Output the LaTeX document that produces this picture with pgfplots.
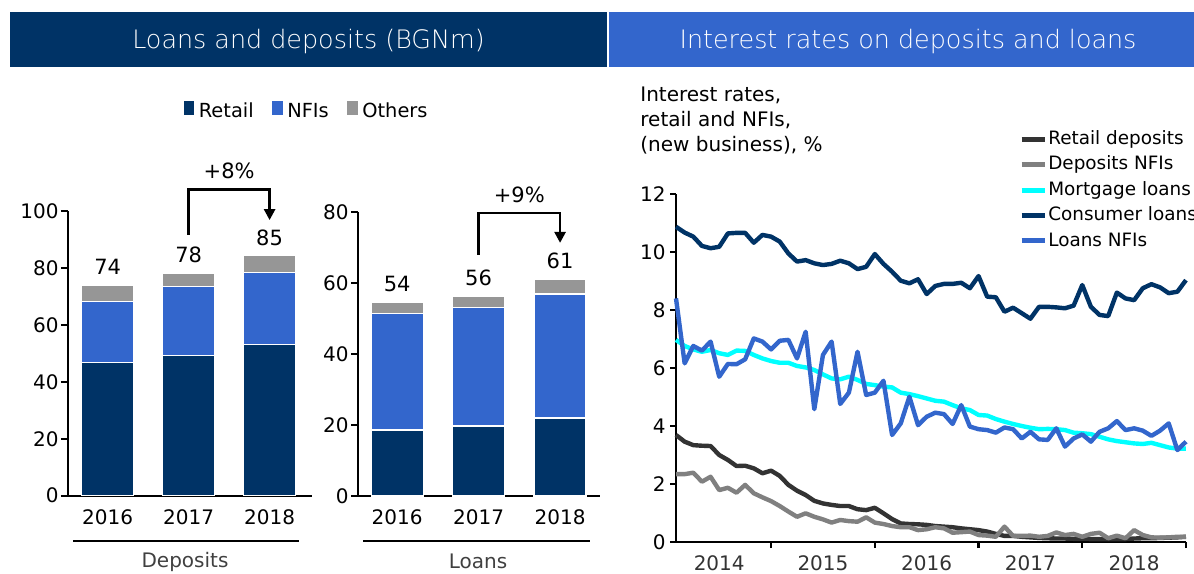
\documentclass[border=0pt]{standalone}
\usepackage{pgfplots}
\pgfplotsset{compat=1.18}
\usepackage{pgfplotstable}
\usepackage{fontspec}
\setmainfont{DejaVu Sans}
\newfontfamily\lightfont{DejaVu Sans ExtraLight}
\usetikzlibrary{arrows.meta}

\definecolor{navy}{RGB}{0,51,102}
\definecolor{nblue}{RGB}{51,102,204}
\definecolor{ogray}{RGB}{150,150,150}
\definecolor{rdep}{RGB}{51,51,51}
\definecolor{dnfi}{RGB}{128,128,128}
\definecolor{mort}{RGB}{0,255,255}
\definecolor{lblgray}{RGB}{64,64,64}

\pgfplotstableread{
x retail nfi others
0 46.9 21.2 5.7
1 49.2 24.2 4.7
2 53.2 25.3 6.0
}\deposits

\pgfplotstableread{
x retail nfi others
0 18.6 32.9 3.1
1 19.7 33.3 3.3
2 22.0 34.9 4.2
}\loans

\pgfplotstableread{
m rd dn ml cl ln
0 3.69 2.34 6.97 10.87 8.40
1 3.46 2.34 6.76 10.67 6.16
2 3.34 2.39 6.64 10.53 6.76
3 3.32 2.08 6.56 10.21 6.60
4 3.31 2.25 6.62 10.13 6.91
5 3.00 1.79 6.51 10.18 5.70
6 2.83 1.87 6.45 10.64 6.14
7 2.62 1.70 6.60 10.66 6.13
8 2.63 1.97 6.59 10.66 6.30
9 2.54 1.68 6.45 10.32 7.02
10 2.37 1.54 6.33 10.59 6.91
11 2.46 1.41 6.24 10.53 6.64
12 2.28 1.24 6.18 10.36 6.94
13 1.97 1.05 6.18 9.95 6.97
14 1.77 0.87 6.07 9.67 6.33
15 1.62 0.99 6.02 9.72 7.25
16 1.42 0.87 5.93 9.61 4.58
17 1.33 0.78 5.78 9.55 6.45
18 1.28 0.67 5.64 9.59 6.91
19 1.24 0.76 5.61 9.70 4.76
20 1.24 0.72 5.70 9.61 5.15
21 1.13 0.70 5.59 9.41 6.56
22 1.10 0.85 5.45 9.49 5.07
23 1.18 0.67 5.41 9.93 5.15
24 0.99 0.62 5.36 9.59 5.56
25 0.79 0.55 5.33 9.32 3.69
26 0.64 0.51 5.15 9.01 4.09
27 0.62 0.51 5.10 8.92 5.01
28 0.61 0.41 5.03 9.06 4.03
29 0.59 0.44 4.95 8.55 4.32
30 0.55 0.51 4.87 8.83 4.46
31 0.53 0.47 4.84 8.90 4.41
32 0.51 0.32 4.72 8.90 4.07
33 0.47 0.34 4.61 8.94 4.72
34 0.44 0.36 4.55 8.75 3.98
35 0.41 0.24 4.38 9.17 3.89
36 0.36 0.22 4.36 8.46 3.86
37 0.28 0.18 4.24 8.44 3.77
38 0.21 0.53 4.15 7.94 3.95
39 0.21 0.21 4.07 8.08 3.89
40 0.18 0.21 4.00 7.89 3.57
41 0.16 0.22 3.94 7.70 3.80
42 0.14 0.18 3.89 8.11 3.54
43 0.13 0.21 3.90 8.11 3.52
44 0.12 0.33 3.89 8.09 3.92
45 0.12 0.24 3.86 8.06 3.29
46 0.11 0.28 3.77 8.15 3.57
47 0.11 0.18 3.75 8.86 3.71
48 0.10 0.28 3.72 8.11 3.46
49 0.10 0.32 3.63 7.83 3.80
50 0.10 0.13 3.54 7.79 3.92
51 0.10 0.22 3.48 8.60 4.17
52 0.10 0.13 3.44 8.40 3.86
53 0.12 0.41 3.40 8.34 3.92
54 0.13 0.24 3.38 8.75 3.84
55 0.13 0.16 3.42 8.89 3.66
56 0.14 0.15 3.34 8.78 3.84
57 0.15 0.16 3.26 8.58 4.09
58 0.16 0.18 3.22 8.63 3.17
59 0.18 0.18 3.22 9.03 3.46
}\rates

\pgfplotsset{
  barax/.style={
    scale only axis, ybar stacked, clip=false,
    axis x line=bottom, axis y line=left,
    axis line style={-, line width=1.2pt, black},
    ymin=0, xtick={0,1,2}, xticklabels={2016,2017,2018},
    x tick style={draw=none},
    y tick style={line width=1.2pt, black},
    tick align=outside, major tick length=3.5pt,
    tick label style={font=\fontsize{10}{12}\selectfont},
    yticklabel style={inner sep=1pt},
    /pgf/number format/assume math mode=true,
  },
  barst/.style={fill=#1, draw=white, line width=0.6pt},
}

\begin{document}
\begin{tikzpicture}
\useasboundingbox (0,0) rectangle (597pt,-286.5pt);
% banners
\fill[navy] (5pt,-6pt) rectangle (303.5pt,-33.5pt);
\fill[nblue] (304.5pt,-6pt) rectangle (597pt,-33.5pt);
\node[text=white, font=\lightfont\fontsize{12.7}{15}\selectfont] at (154.25pt,-20.5pt) {Loans and deposits (BGNm)};
\node[text=white, font=\lightfont\fontsize{12.7}{15}\selectfont] at (454pt,-20.5pt) {Interest rates on deposits and loans};

% deposits
\begin{axis}[barax,
  at={(34pt,-247.85pt)}, anchor=south west,
  width=121.85pt, height=142.35pt,
  xmin=-0.49, xmax=2.52, ymax=100, ytick={0,20,...,100},
  bar width=25.85pt,
  ybar legend/.style={legend image code/.code={\fill[##1,draw=none] (0pt,-4pt) rectangle (7.5pt,4pt);}},
  legend columns=3,
  legend style={at={(0.468,1.349)}, anchor=west, draw=none, fill=none, inner sep=0pt,
    font=\fontsize{9.7}{11}\selectfont, nodes={inner sep=1.6pt},
    /tikz/every even column/.append style={column sep=7pt}},
]
\addplot[barst=navy] table[x=x,y=retail]{\deposits};
\addplot[barst=nblue] table[x=x,y=nfi]{\deposits};
\addplot[barst=ogray] table[x=x,y=others]{\deposits};
\legend{Retail,NFIs,Others}
\node[anchor=south, inner sep=0pt, yshift=5.3pt, font=\fontsize{10.5}{12}\selectfont] at (axis cs:0,73.8) {74};
\node[anchor=south, inner sep=0pt, yshift=5.3pt, font=\fontsize{10.5}{12}\selectfont] at (axis cs:1,78.1) {78};
\node[anchor=south, inner sep=0pt, yshift=4.5pt, font=\fontsize{10.5}{12}\selectfont] at (axis cs:2,84.5) {85};
\draw[line width=1.3pt, -{Triangle[length=5.5pt,width=5.5pt]}] (axis cs:1,91.6) |- (axis cs:2,107.6) -- (axis cs:2,96.8);
\node[font=\fontsize{10.5}{12}\selectfont] at (axis cs:1.5,114) {+8\%};
\end{axis}

% loans
\begin{axis}[barax,
  at={(179pt,-248pt)}, anchor=south west,
  width=121pt, height=142pt,
  xmin=-0.48, xmax=2.49, ymax=80, ytick={0,20,...,80},
  bar width=26pt,
]
\addplot[barst=navy] table[x=x,y=retail]{\loans};
\addplot[barst=nblue] table[x=x,y=nfi]{\loans};
\addplot[barst=ogray] table[x=x,y=others]{\loans};
\node[anchor=south, inner sep=0pt, yshift=5pt, font=\fontsize{10.5}{12}\selectfont] at (axis cs:0,54.6) {54};
\node[anchor=south, inner sep=0pt, yshift=5pt, font=\fontsize{10.5}{12}\selectfont] at (axis cs:1,56.3) {56};
\node[anchor=south, inner sep=0pt, yshift=5pt, font=\fontsize{10.5}{12}\selectfont] at (axis cs:2,61.1) {61};
\draw[line width=1.3pt, -{Triangle[length=5.5pt,width=5.5pt]}] (axis cs:1,67.9) |- (axis cs:2,79.7) -- (axis cs:2,71.3);
\node[font=\fontsize{10.5}{12}\selectfont] at (axis cs:1.5,84.8) {+9\%};
\end{axis}

% group underlines
\draw[line width=1pt] (36.5pt,-270.5pt) -- (149.5pt,-270.5pt);
\draw[line width=1pt] (181.5pt,-270.5pt) -- (295pt,-270.5pt);
\node[text=lblgray, font=\fontsize{10}{12}\selectfont] at (92.5pt,-280.8pt) {Deposits};
\node[text=lblgray, font=\fontsize{10}{12}\selectfont] at (239pt,-280.8pt) {Loans};

% line chart title
\node[anchor=base west, inner sep=0pt, font=\fontsize{10}{12}\selectfont] at (320pt,-50.5pt) {Interest rates,};
\node[anchor=base west, inner sep=0pt, font=\fontsize{10}{12}\selectfont] at (320pt,-63pt) {retail and NFIs,};
\node[anchor=base west, inner sep=0pt, font=\fontsize{10}{12}\selectfont] at (320pt,-75.5pt) {(new business), \%};

% rates
\begin{axis}[
  at={(338pt,-271pt)}, anchor=south west,
  scale only axis, width=255pt, height=174pt,
  xmin=0, xmax=59, ymin=0, ymax=12, clip=false,
  axis x line=bottom, axis y line=left,
  axis line style={-, line width=1.2pt, black},
  ytick={0,2,...,12},
  xtick={11,23,35,47,59}, xticklabels={},
  extra x ticks={5,17,29,41,53},
  extra x tick labels={2014,2015,2016,2017,2018},
  extra x tick style={major tick length=0pt, tick label style={yshift=-3.3pt, text=rdep}},
  tick align=outside, major tick length=3pt,
  tick style={line width=1.2pt, black},
  tick label style={font=\fontsize{10}{12}\selectfont},
  yticklabel style={inner sep=2pt},
  /pgf/number format/assume math mode=true,
  legend image code/.code={\draw[#1, line width=2.5pt] (0pt,0pt) -- (11.5pt,0pt);},
  legend cell align=left,
  legend style={at={(0.672,1.188)}, anchor=north west, draw=none, fill=none, inner sep=0pt,
    font=\fontsize{9.2}{11}\selectfont, nodes={inner sep=0.6pt, text height=7.2pt, text depth=2pt},
    row sep=2.3pt},
]
\addplot[rdep, line width=2.2pt, line join=round] table[x=m,y=rd]{\rates};
\addlegendentry{Retail deposits}
\addplot[dnfi, line width=2.2pt, line join=round] table[x=m,y=dn]{\rates};
\addlegendentry{Deposits NFIs}
\addplot[mort, line width=2.2pt, line join=round] table[x=m,y=ml]{\rates};
\addlegendentry{Mortgage loans}
\addplot[navy, line width=2.2pt, line join=round] table[x=m,y=cl]{\rates};
\addlegendentry{Consumer loans}
\addplot[nblue, line width=2.2pt, line join=round] table[x=m,y=ln]{\rates};
\addlegendentry{Loans NFIs}
\end{axis}
\end{tikzpicture}
\end{document}
